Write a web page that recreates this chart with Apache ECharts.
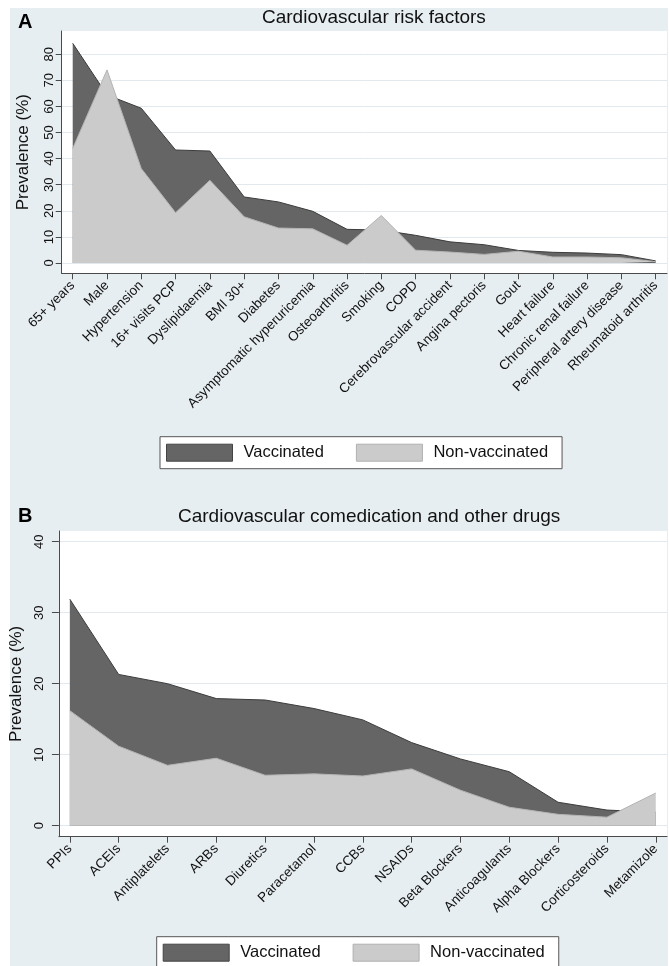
<!DOCTYPE html>
<html>
<head>
<meta charset="utf-8">
<script src="https://cdn.jsdelivr.net/npm/echarts@6/dist/echarts.min.js"></script>
<style>
  html, body { margin: 0; padding: 0; background: #ffffff; }
  #bg { position: absolute; left: 10px; top: 8px; width: 658px; height: 958px; background: #e7eef1; }
  #chart { position: absolute; left: 0; top: 0; width: 669px; height: 966px; }
</style>
</head>
<body>
<div id="bg"></div>
<div id="chart"></div>
<script>
// ---- Panel A data ----
const catsA = ['65+ years', 'Male', 'Hypertension', '16+ visits PCP', 'Dyslipidaemia', 'BMI 30+', 'Diabetes',
  'Asymptomatic hyperuricemia', 'Osteoarthritis', 'Smoking', 'COPD', 'Cerebrovascular accident',
  'Angina pectoris', 'Gout', 'Heart failure', 'Chronic renal failure', 'Peripheral artery disease',
  'Rheumatoid arthritis'];
const vaccA    = [84.2, 64.4, 59.3, 43.3, 42.9, 25.3, 23.4, 19.8, 12.9, 12.6, 10.6, 8.1, 7.0, 4.8, 4.1, 3.8, 3.2, 0.8];
const nonVaccA = [43.9, 74.0, 36.2, 19.3, 31.7, 17.7, 13.4, 13.1, 6.8, 18.2, 4.9, 4.2, 3.3, 4.5, 2.3, 2.3, 2.0, 0.5];
const ticksA = [0, 10, 20, 30, 40, 50, 60, 70, 80];

// ---- Panel B data ----
const catsB = ['PPIs', 'ACEIs', 'Antiplatelets', 'ARBs', 'Diuretics', 'Paracetamol', 'CCBs', 'NSAIDs',
  'Beta Blockers', 'Anticoagulants', 'Alpha Blockers', 'Corticosteroids', 'Metamizole'];
const vaccB    = [31.9, 21.3, 20.0, 17.9, 17.7, 16.5, 14.9, 11.7, 9.4, 7.6, 3.3, 2.2, 1.9];
const nonVaccB = [16.2, 11.2, 8.5, 9.5, 7.1, 7.3, 7.0, 8.0, 5.0, 2.6, 1.6, 1.2, 4.6];
const ticksB = [0, 10, 20, 30, 40];

const titleA = 'Cardiovascular risk factors';
const titleB = 'Cardiovascular comedication and other drugs';
const yName = 'Prevalence (%)';
const seriesNames = ['Vaccinated', 'Non-vaccinated'];

const FONT = '"Liberation Sans", Arial, Helvetica, sans-serif';
const DARK = '#656565', DARK_LINE = '#3c3c3c';
const LIGHT = '#cbcbcb', LIGHT_LINE = '#b4b4b4';
const AXIS = '#4a4a4a', GRID = '#e1e9ee', TXT = '#111';

const idx = n => Array.from({length: n}, (_, i) => i);
const pairs = arr => arr.map((v, i) => [i, v]);

function xAxisFor(gridIndex, cats, min, max) {
  return {
    type: 'value', gridIndex, min, max,
    axisLine: { onZero: false, lineStyle: { color: AXIS, width: 1 } },
    axisTick: { show: true, length: 6, lineStyle: { color: AXIS }, customValues: idx(cats.length) },
    axisLabel: { customValues: idx(cats.length), rotate: 45, margin: 10, fontSize: 13.5,
      fontFamily: FONT, color: TXT, formatter: v => cats[Math.round(v)] },
    splitLine: { show: false }
  };
}
function yAxisFor(gridIndex, ticks, min, max, tickLen, margin, nameGap) {
  return {
    type: 'value', gridIndex, min, max,
    name: yName, nameLocation: 'middle', nameRotate: 90, nameGap,
    nameTextStyle: { fontSize: 17, fontFamily: FONT, color: TXT },
    axisLine: { show: true, onZero: false, lineStyle: { color: AXIS, width: 1 } },
    axisTick: { show: true, length: tickLen, lineStyle: { color: AXIS }, customValues: ticks },
    axisLabel: { customValues: ticks, rotate: 90, margin, fontSize: 13, fontFamily: FONT, color: TXT },
    splitLine: { show: true, lineStyle: { color: GRID, width: 1 } }
  };
}
function areaSeries(name, data, xi, fill, line, z) {
  return {
    name, type: 'line', xAxisIndex: xi, yAxisIndex: xi, data: pairs(data),
    showSymbol: false, symbol: 'none', z,
    itemStyle: { color: fill },
    lineStyle: { color: line, width: 1 },
    areaStyle: { color: fill, opacity: 1, origin: 'auto' },
    silent: true, animation: false
  };
}
function legendFor(top, left) {
  return {
    show: true, left, top, orient: 'horizontal', selectedMode: false,
    backgroundColor: '#fff', borderColor: '#555', borderWidth: 1, borderRadius: 0,
    padding: [7, 14, 7, 6], itemWidth: 66, itemHeight: 17, itemGap: 32, icon: 'rect',
    textStyle: { fontSize: 16.5, fontFamily: FONT, color: TXT, padding: [0, 0, 0, 6] },
    data: [
      { name: seriesNames[0], itemStyle: { color: DARK, borderColor: '#444', borderWidth: 1 } },
      { name: seriesNames[1], itemStyle: { color: LIGHT, borderColor: '#b0b0b0', borderWidth: 1 } }
    ]
  };
}

const chart = echarts.init(document.getElementById('chart'), null, { renderer: 'canvas' });
chart.setOption({
  animation: false,
  backgroundColor: 'transparent',
  graphic: [
    { type: 'text', left: 18, top: 12, style: { text: 'A', font: 'bold 20px ' + FONT, fill: '#000' } },
    { type: 'text', left: 262, top: 8, style: { text: titleA, font: '19px ' + FONT, fill: TXT } },
    { type: 'text', left: 18, top: 506, style: { text: 'B', font: 'bold 20px ' + FONT, fill: '#000' } },
    { type: 'text', left: 178, top: 507, style: { text: titleB, font: '19px ' + FONT, fill: TXT } }
  ],
  grid: [
    { left: 61.7, right: 2, top: 31, height: 242.3, show: true, backgroundColor: '#fff', borderWidth: 0, containLabel: false },
    { left: 55.7, right: 2, top: 531, height: 305.7, show: true, backgroundColor: '#fff', borderWidth: 0, containLabel: false }
  ],
  xAxis: [
    xAxisFor(0, catsA, -0.321, 17.33),
    xAxisFor(1, catsB, -0.224, 12.23)
  ],
  yAxis: [
    yAxisFor(0, ticksA, -3.95, 88.9, 6, 6, 30),
    yAxisFor(1, ticksB, -1.55, 41.5, 7, 13, 21)
  ],
  legend: [legendFor(436.7, 160), legendFor(936.7, 156.7)],
  series: [
    areaSeries(seriesNames[0], vaccA, 0, DARK, DARK_LINE, 2),
    areaSeries(seriesNames[1], nonVaccA, 0, LIGHT, LIGHT_LINE, 3),
    areaSeries(seriesNames[0], vaccB, 1, DARK, DARK_LINE, 2),
    areaSeries(seriesNames[1], nonVaccB, 1, LIGHT, LIGHT_LINE, 3)
  ]
});
</script>
</body>
</html>
